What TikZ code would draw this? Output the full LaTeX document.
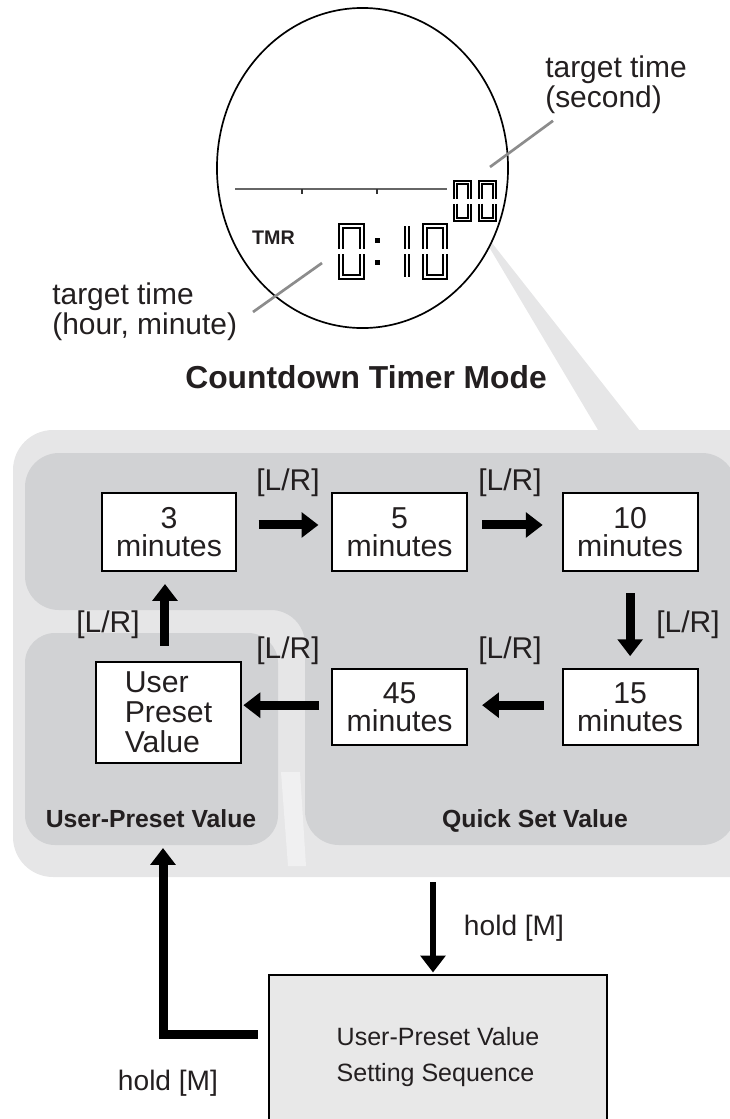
\documentclass[tikz,border=0pt]{standalone}
\usepackage{fontspec}
\setmainfont{Liberation Sans}
\usetikzlibrary{positioning}
\usetikzlibrary{arrows.meta}

\definecolor{panellight}{RGB}{230,230,231}
\definecolor{paneldark}{RGB}{209,210,212}
\definecolor{seqfill}{RGB}{232,232,232}
\definecolor{calloutgray}{RGB}{140,140,140}
\definecolor{inkgray}{RGB}{35,31,32}

% lcd digits: [style], left, top, width, height (centre lines)
\newcommand{\lcdzero}[5][]{%
  \draw[lcdline,#1] ({#2},{#3+#5/2-2.5}) |- ({#2+#4},{#3}) -- ({#2+#4},{#3+#5/2-2.5});
  \draw[lcdline,#1] ({#2},{#3+#5/2+2.5}) |- ({#2+#4},{#3+#5}) -- ({#2+#4},{#3+#5/2+2.5});}
\newcommand{\lcdone}[3]{%
  \draw[lcdline] ({#1},{#2}) -- ({#1},{#2+#3/2-2.5});
  \draw[lcdline] ({#1},{#2+#3/2+2.5}) -- ({#1},{#2+#3});}

\begin{document}
\begin{tikzpicture}[x=0.025cm, y=-0.025cm,
    every node/.style={text=inkgray, inner sep=0pt},
    minbox/.style={draw=black, line width=1.5pt, fill=white, align=center,
      font=\fontsize{21.5}{20}\selectfont, minimum width=3.37cm, minimum height=1.95cm},
    lr/.style={font=\fontsize{21.3}{24}\selectfont},
    hold/.style={font=\fontsize{20}{24}\selectfont},
    region/.style={font=\bfseries\fontsize{17.6}{20}\selectfont},
    fat/.style={line width=6.4pt, -{Triangle[width=17.5pt,length=12pt]}},
    callout/.style={calloutgray, line width=1.9pt},
    lcdline/.style={draw=black, line width=1.8pt, double=white, double distance=1.3pt},
    lcdsmall/.style={line width=1.4pt, double distance=1pt}]
\useasboundingbox (0,0) rectangle (730,1119);
\clip (0,0) rectangle (730,1119);

% panel
\fill[panellight, rounded corners=1cm] (13,430) rectangle (780,877);
\fill[panellight] (470,215) -- (647,440) -- (604,440) -- cycle;
\fill[paneldark, rounded corners=0.85cm] (25,453) -- (736,453) -- (736,845) -- (305,845) -- (305,610) -- (25,610) -- cycle;
\fill[paneldark, rounded corners=0.75cm] (25,633) rectangle (278,845);
\fill[white!40!panellight] (281,772) -- (300,772) -- (306,866) -- (288,866) -- cycle;

% watch face
\draw[black, line width=1.2pt, fill=white] (362.5,168) ellipse [x radius=3.6375cm, y radius=4cm];
\draw[black!60, line width=1.9pt] (235,189) -- (447,189);
\foreach \t in {302,377}
  \draw[black!80, line width=1.2pt] (\t,189) -- (\t,194);
\node[font=\bfseries\fontsize{14}{14}\selectfont] (tmr) at (273.5,237.5) {TMR};
\lcdzero[lcdsmall]{455.5}{182.5}{14}{37}
\lcdzero[lcdsmall]{480.5}{182.5}{14}{37}
\lcdzero{341}{226}{21}{51}
\fill[black] (374.5,237.5) rectangle ++(5,5);
\fill[black] (374.5,259.5) rectangle ++(5,5);
\lcdone{407}{226}{51}
\lcdzero{425}{226}{20}{51}

% callouts
\node[anchor=north west, align=left, font=\fontsize{21.3}{16.7}\selectfont] (seclbl) at (545,56) {target time\\(second)};
\coordinate (secpt) at (490,167);
\draw[callout] ([shift={(8,7)}]seclbl.south west) -- (secpt);
\node[anchor=north west, align=left, font=\fontsize{21.3}{16.7}\selectfont] (hmlbl) at (52,283) {target time\\(hour, minute)};
\coordinate (hmpt) at (322,263);
\coordinate (hmend) at (253,312);
\draw[callout] (hmend) -- (hmpt);

\node[font=\bfseries\fontsize{22.6}{26}\selectfont] (title) at (366,377) {Countdown Timer Mode};

% quick set boxes
\node[minbox] (m3) at (169,532) {3\\minutes};
\node[minbox, right=2.34cm of m3] (m5) {5\\minutes};
\node[minbox, right=2.34cm of m5] (m10) {10\\minutes};
\node[minbox, minimum height=1.9cm, below=2.4cm of m10] (m15) {15\\minutes};
\node[minbox, minimum height=1.9cm, left=2.34cm of m15] (m45) {45\\minutes};
\node[minbox, minimum width=3.62cm, minimum height=2.52cm, align=left,
  font=\fontsize{21.5}{21.5}\selectfont] (mup) at (168.5,712.5) {User\\Preset\\Value};

\draw[fat, shorten <=15pt, shorten >=9pt] ([yshift=5pt]m3.east) -- ([yshift=5pt]m5.west);
\draw[fat, shorten <=10pt, shorten >=13.5pt] ([yshift=5pt]m5.east) -- ([yshift=5pt]m10.west);
\draw[fat, shorten <=15pt, shorten >=8.5pt] (m10.south) -- (m15.north);
\draw[fat, shorten <=12.8pt, shorten >=10pt] ([yshift=1.4pt]m15.west) -- ([yshift=1.4pt]m45.east);
\draw[fat, shorten <=8.5pt, shorten >=1pt] ([yshift=1.4pt]m45.west) -- ([yshift=1.4pt]m45.west -| mup.east);
\draw[fat, shorten <=10.7pt, shorten >=8.5pt] ([xshift=-2.5pt]mup.north) -- ([xshift=-2.5pt]mup.north |- m3.south);

\node[lr] (lr1) at (288,483) {[L/R]};
\node[lr] (lr2) at (510,483) {[L/R]};
\node[lr] (lr3) at (688,625) {[L/R]};
\node[lr] (lr4) at (510,651) {[L/R]};
\node[lr] (lr5) at (288,651) {[L/R]};
\node[lr] (lr6) at (108,625) {[L/R]};

\node[region, anchor=base] (uplbl) at (151,827) {User-Preset Value};
\node[region, anchor=base] (qslbl) at (535,827) {Quick Set Value};

% setting sequence
\node[draw=black, line width=1.6pt, fill=seqfill, minimum width=8.45cm, minimum height=4.125cm,
  align=left, font=\fontsize{17.8}{25.6}\selectfont] (seq) at (438,1057.5) {User-Preset Value\\Setting Sequence};
\coordinate (panelout) at (433,882);
\coordinate (upreg) at (163,848);
\draw[fat, line width=4.8pt, shorten >=1pt] (panelout) -- (panelout |- seq.north);
\draw[fat] ([shift={(-10,-23.5)}]seq.west) -| (upreg);
\node[hold] (hold1) at (514,928) {hold [M]};
\node[hold] (hold2) at (168,1083) {hold [M]};
\end{tikzpicture}
\end{document}
